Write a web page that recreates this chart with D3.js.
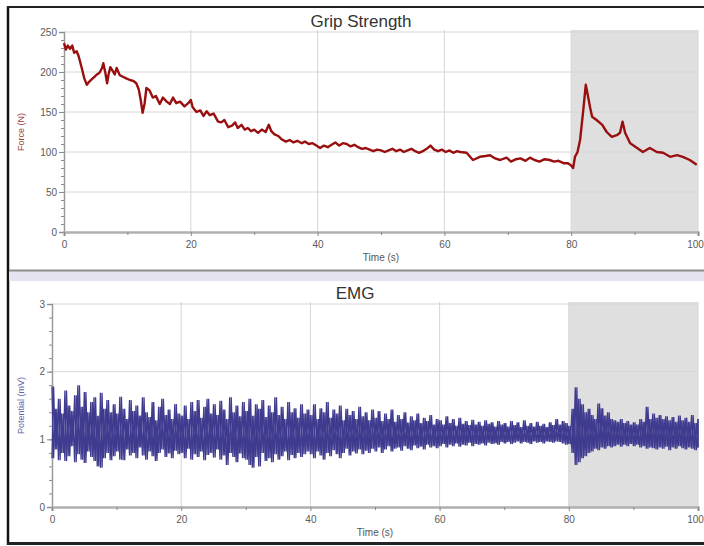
<!DOCTYPE html>
<html>
<head>
<meta charset="utf-8">
<script src="https://cdn.jsdelivr.net/npm/d3@7/dist/d3.min.js"></script>
<style>
  body { margin: 0; background: #fff; }
  svg { display: block; font-family: Arial, "Liberation Sans", sans-serif; }
</style>
</head>
<body>
<svg id="chart" width="704" height="546"></svg>
<script>
/*
 * Data
 */
var gripTime = [0, 0.3, 0.6, 0.95, 1.3, 1.6, 2.0, 2.3, 2.8, 3.2, 3.6, 4.0, 4.4, 4.8, 5.2, 5.6, 6.0, 6.2, 6.5, 6.8,
  7.0, 7.3, 7.7, 8.0, 8.3, 8.8, 9.3, 9.8, 10.4, 10.9, 11.4, 11.8, 12.1, 12.4, 12.7, 13.0, 13.5, 14.0, 14.5, 15.1,
  15.6, 16.2, 16.7, 17.2, 17.7, 18.3, 19.0, 19.6, 20.0, 20.3, 20.9, 21.5, 22.0, 22.5, 23.0, 23.6, 24.3, 24.8, 25.3, 25.9,
  26.5, 27.0, 27.4, 28.0, 28.5, 29.0, 29.5, 30.0, 30.6, 31.2, 31.8, 32.3, 32.7, 33.2, 33.8, 34.3, 35.0, 35.6, 36.2, 36.8,
  37.5, 38.0, 38.6, 39.2, 39.8, 40.4, 41.0, 41.6, 42.2, 42.8, 43.4, 44.0, 44.6, 45.2, 45.8, 46.4, 47.0, 47.6, 48.2, 48.8,
  49.4, 50.0, 50.6, 51.2, 51.8, 52.4, 53.0, 53.6, 54.2, 54.8, 55.4, 56.0, 56.6, 57.2, 57.8, 58.4, 59.0, 59.6, 60.2, 60.8,
  61.4, 62.0, 62.5, 63.5, 64.5, 65.6, 66.5, 67.2, 68.0, 68.8, 69.8, 70.5, 71.3, 72.0, 72.8, 73.5, 74.2, 75.0, 75.8, 76.6,
  77.3, 78.0, 78.8, 79.5, 80.0, 80.3, 80.6, 81.0, 81.4, 81.9, 82.3, 82.6, 83.0, 83.3, 84.0, 84.9, 85.6, 86.4, 87.2, 87.7,
  88.1, 88.5, 89.3, 90.4, 91.3, 92.4, 93.5, 94.5, 95.6, 96.7, 97.6, 98.7, 99.8];
var gripForce = [236, 228, 233, 229, 233, 224, 226, 220, 205, 192, 184, 188, 191, 194, 197, 199, 205, 211, 200, 186,
  196, 206, 201, 197, 205, 196, 194, 192, 190, 189, 186, 178, 165, 149, 160, 180, 177, 168, 170, 160,
  168, 163, 160, 168, 161, 163, 157, 161, 165, 156, 150, 152, 145, 151, 146, 148, 138, 137, 140, 131,
  133, 137, 130, 134, 128, 130, 126, 128, 124, 128, 125, 134, 126, 122, 120, 116, 113, 115, 112, 114,
  111, 113, 110, 111, 108, 105, 108, 106, 109, 112, 108, 111, 110, 107, 109, 106, 104, 105, 103, 101,
  103, 102, 100, 102, 104, 101, 103, 100, 102, 104, 101, 99, 101, 104, 108, 103, 101, 103, 100, 102,
  99, 101, 100, 99, 90, 94, 95, 96, 92, 90, 93, 88, 91, 92, 89, 93, 90, 88, 91, 90,
  88, 89, 86, 86, 83, 80, 94, 100, 115, 152, 184, 172, 155, 144, 140, 134, 125, 119, 121, 124,
  138, 124, 111, 105, 100, 105, 100, 99, 94, 96, 94, 90, 84];

// EMG envelope, one high / low pair every half second from 0 to 100 s
var emgHigh = [1.78, 1.45, 1.60, 1.38, 1.72, 1.50, 1.42, 1.65, 1.80, 1.48, 1.70, 1.40, 1.55, 1.62, 1.35, 1.69, 1.45, 1.58, 1.40, 1.52,
  1.38, 1.63, 1.45, 1.30, 1.58, 1.42, 1.50, 1.35, 1.62, 1.40, 1.33, 1.55, 1.28, 1.48, 1.60, 1.36, 1.44, 1.30, 1.52, 1.38,
  1.35, 1.50, 1.30, 1.55, 1.42, 1.58, 1.32, 1.48, 1.60, 1.38, 1.52, 1.36, 1.57, 1.44, 1.30, 1.62, 1.40, 1.50, 1.34, 1.55,
  1.42, 1.60, 1.35, 1.52, 1.45, 1.58, 1.33, 1.50, 1.40, 1.62, 1.36, 1.48, 1.30, 1.55, 1.40, 1.46, 1.32, 1.52, 1.38, 1.44,
  1.36, 1.52, 1.30, 1.46, 1.40, 1.55, 1.32, 1.44, 1.38, 1.50, 1.28, 1.45, 1.36, 1.42, 1.30, 1.48, 1.34, 1.40, 1.28, 1.44,
  1.32, 1.42, 1.27, 1.38, 1.30, 1.44, 1.26, 1.36, 1.30, 1.40, 1.25, 1.34, 1.28, 1.38, 1.24, 1.32, 1.27, 1.36, 1.22, 1.30,
  1.28, 1.22, 1.34, 1.24, 1.30, 1.20, 1.32, 1.23, 1.27, 1.21, 1.29, 1.22, 1.26, 1.20, 1.28, 1.23, 1.25, 1.19, 1.27, 1.22,
  1.24, 1.19, 1.27, 1.21, 1.25, 1.18, 1.28, 1.20, 1.24, 1.19, 1.26, 1.20, 1.23, 1.18, 1.25, 1.21, 1.30, 1.22, 1.27, 1.24,
  1.20, 1.45, 1.77, 1.60, 1.52, 1.40, 1.45, 1.36, 1.30, 1.53, 1.46, 1.35, 1.40, 1.30, 1.28, 1.26, 1.30, 1.24, 1.27, 1.22,
  1.25, 1.22, 1.30, 1.26, 1.48, 1.30, 1.38, 1.32, 1.36, 1.30, 1.34, 1.28, 1.33, 1.26, 1.35, 1.28, 1.32, 1.26, 1.36, 1.24, 1.30];
var emgLow = [0.72, 0.85, 0.69, 0.80, 0.68, 0.75, 0.90, 0.66, 0.78, 0.70, 0.65, 0.82, 0.74, 0.68, 0.60, 0.58, 0.72, 0.80, 0.69, 0.75,
  0.82, 0.70, 0.69, 0.85, 0.76, 0.80, 0.72, 0.88, 0.76, 0.70, 0.82, 0.75, 0.68, 0.80, 0.85, 0.74, 0.79, 0.72, 0.83, 0.78,
  0.80, 0.72, 0.86, 0.70, 0.78, 0.74, 0.82, 0.69, 0.77, 0.80, 0.73, 0.85, 0.70, 0.76, 0.62, 0.80, 0.74, 0.66, 0.79, 0.72,
  0.70, 0.62, 0.58, 0.74, 0.60, 0.80, 0.68, 0.72, 0.66, 0.78, 0.70, 0.75, 0.82, 0.69, 0.77, 0.72, 0.80, 0.74, 0.78, 0.82,
  0.78, 0.72, 0.82, 0.76, 0.70, 0.80, 0.75, 0.84, 0.78, 0.72, 0.80, 0.86, 0.76, 0.82, 0.79, 0.85, 0.78, 0.83, 0.80, 0.86,
  0.82, 0.88, 0.80, 0.85, 0.90, 0.82, 0.86, 0.88, 0.83, 0.90, 0.86, 0.84, 0.91, 0.87, 0.89, 0.85, 0.92, 0.88, 0.90, 0.87,
  0.90, 0.93, 0.88, 0.92, 0.90, 0.94, 0.89, 0.92, 0.91, 0.95, 0.90, 0.93, 0.92, 0.94, 0.91, 0.95, 0.93, 0.94, 0.92, 0.96,
  0.94, 0.96, 0.93, 0.95, 0.97, 0.94, 0.96, 0.95, 0.93, 0.97, 0.95, 0.96, 0.94, 0.97, 0.96, 0.95, 0.97, 0.96, 0.94, 0.92,
  0.93, 0.80, 0.62, 0.66, 0.72, 0.75, 0.80, 0.82, 0.86, 0.84, 0.88, 0.86, 0.90, 0.88, 0.90, 0.92, 0.89, 0.92, 0.90, 0.93,
  0.90, 0.92, 0.88, 0.90, 0.86, 0.88, 0.87, 0.85, 0.88, 0.86, 0.89, 0.84, 0.88, 0.86, 0.90, 0.87, 0.85, 0.88, 0.86, 0.84, 0.88];
var emgStep = 0.5;

var timeTicks = [0, 20, 40, 60, 80, 100];
var timeMinorTicks = [10, 30, 50, 70, 90];
var forceTicks = [0, 50, 100, 150, 200, 250];
var potentialTicks = [0, 1, 2, 3];
var shadeFrom = 80;
var shadeTo = 100;

var svg = d3.select('#chart');

/*
 * Window frame and panel separator
 */
svg.append('rect').attr('x', 0).attr('y', 0).attr('width', 704).attr('height', 546).attr('fill', '#fff');
svg.append('line').attr('x1', 8).attr('x2', 8).attr('y1', 6).attr('y2', 545)
  .attr('stroke', '#111').attr('stroke-width', 2.5);
svg.append('line').attr('x1', 7).attr('x2', 704).attr('y1', 7).attr('y2', 7)
  .attr('stroke', '#222').attr('stroke-width', 2);
svg.append('line').attr('x1', 7).attr('x2', 704).attr('y1', 543.5).attr('y2', 543.5)
  .attr('stroke', '#222').attr('stroke-width', 3);
svg.append('rect').attr('x', 9).attr('y', 271).attr('width', 695).attr('height', 10).attr('fill', '#e4e3ef');
svg.append('line').attr('x1', 9).attr('x2', 704).attr('y1', 270.5).attr('y2', 270.5)
  .attr('stroke', '#8d8d8d').attr('stroke-width', 2);

var grip = drawPanel({
  left: 64, right: 698, top: 32, bottom: 232,
  yDomain: [0, 250], yTicks: forceTicks, yMinor: d3.range(0, 251, 10),
  title: 'Grip Strength', titleY: 27,
  yLabel: 'Force (N)', yLabelColor: '#a03c3c'
});

grip.group.append('path')
  .datum(gripTime.map(function(t, i) { return [t, gripForce[i]]; }))
  .attr('fill', 'none')
  .attr('stroke', '#990f0f')
  .attr('stroke-width', 2.4)
  .attr('stroke-linejoin', 'round')
  .attr('d', d3.line()
    .x(function(d) { return grip.x(d[0]); })
    .y(function(d) { return grip.y(d[1]); }));

var emg = drawPanel({
  left: 52, right: 698, top: 304, bottom: 507,
  yDomain: [0, 3], yTicks: potentialTicks, yMinor: d3.range(0, 3.01, 0.2),
  title: 'EMG', titleY: 299,
  yLabel: 'Potential (mV)', yLabelColor: '#6464a8'
});

// dense signal: swing from each high to the low of the same half second, both phases
var emgDown = [];
var emgUp = [];
emgHigh.forEach(function(h, i) {
  var t = i * emgStep;
  var mid = Math.min(100, t + emgStep / 2);
  emgDown.push([t, h]);
  emgDown.push([mid, emgLow[i]]);
  emgUp.push([t, emgLow[i]]);
  emgUp.push([mid, h]);
});

var emgLine = d3.line()
  .x(function(d) { return emg.x(d[0]); })
  .y(function(d) { return emg.y(d[1]); });

emg.group.selectAll('.emg')
  .data([emgDown, emgUp])
  .enter().append('path')
  .attr('class', 'emg')
  .attr('fill', 'none')
  .attr('stroke', '#3f3b8f')
  .attr('stroke-width', 1.3)
  .attr('d', emgLine);

function drawPanel(p) {
  var g = svg.append('g');
  var x = d3.scaleLinear().domain([0, 100]).range([p.left, p.right]);
  var y = d3.scaleLinear().domain(p.yDomain).range([p.bottom, p.top]);

  // shaded selection
  g.append('rect')
    .attr('x', x(shadeFrom))
    .attr('y', p.top - 2)
    .attr('width', x(shadeTo) - x(shadeFrom))
    .attr('height', p.bottom - p.top + 2)
    .attr('fill', '#dfdfdf');

  // grid
  g.selectAll('.hgrid')
    .data(p.yTicks.slice(1))
    .enter().append('line')
    .attr('class', 'hgrid')
    .attr('x1', p.left).attr('x2', p.right)
    .attr('y1', function(d) { return y(d); })
    .attr('y2', function(d) { return y(d); })
    .attr('stroke', '#d6d6d6');
  g.selectAll('.vgrid')
    .data(timeTicks.slice(1))
    .enter().append('line')
    .attr('class', 'vgrid')
    .attr('x1', function(d) { return x(d); })
    .attr('x2', function(d) { return x(d); })
    .attr('y1', p.top - 2).attr('y2', p.bottom)
    .attr('stroke', '#d6d6d6');

  // axes
  g.append('g')
    .attr('transform', 'translate(' + p.left + ', 0)')
    .call(d3.axisLeft(y).tickValues(p.yTicks).tickSize(5).tickPadding(2).tickFormat(d3.format('d')));
  g.append('g')
    .attr('transform', 'translate(' + p.left + ', 0)')
    .call(d3.axisLeft(y).tickValues(p.yMinor).tickSize(3).tickFormat(''))
    .select('.domain').remove();

  var xAxis = g.append('g')
    .attr('transform', 'translate(0, ' + p.bottom + ')')
    .call(d3.axisBottom(x).tickValues(timeTicks).tickSize(4).tickPadding(5));
  g.append('g')
    .attr('transform', 'translate(0, ' + p.bottom + ')')
    .call(d3.axisBottom(x).tickValues(timeMinorTicks).tickSize(3).tickFormat(''))
    .select('.domain').remove();

  g.selectAll('.domain').attr('stroke', '#9a9a9a').attr('stroke-width', 1.5);
  g.selectAll('.tick line').attr('stroke', '#8a8a8a');
  g.selectAll('.tick text')
    .attr('fill', '#5a5a5a')
    .style('font-size', '10px')
    .style('font-family', 'Arial, "Liberation Sans", sans-serif');
  xAxis.select('.domain').attr('stroke-width', 2.5).attr('stroke', '#b0b0b0');

  // last time label sits at the window edge, pull it in so it is not cut
  xAxis.selectAll('.tick text')
    .filter(function(d) { return d === 100; })
    .attr('dx', -3);

  // labels
  g.append('text')
    .attr('x', (p.left + p.right) / 2 - 20)
    .attr('y', p.titleY)
    .attr('text-anchor', 'middle')
    .attr('fill', '#333')
    .style('font-size', '17px')
    .text(p.title);
  g.append('text')
    .attr('x', (p.left + p.right) / 2)
    .attr('y', p.bottom + 29)
    .attr('text-anchor', 'middle')
    .attr('fill', '#555')
    .style('font-size', '10px')
    .text('Time (s)');
  g.append('text')
    .attr('transform', 'translate(24, ' + (p.top + p.bottom) / 2 + ') rotate(-90)')
    .attr('text-anchor', 'middle')
    .attr('fill', p.yLabelColor)
    .style('font-size', '9px')
    .text(p.yLabel);

  return { group: g, x: x, y: y };
}
</script>
</body>
</html>
